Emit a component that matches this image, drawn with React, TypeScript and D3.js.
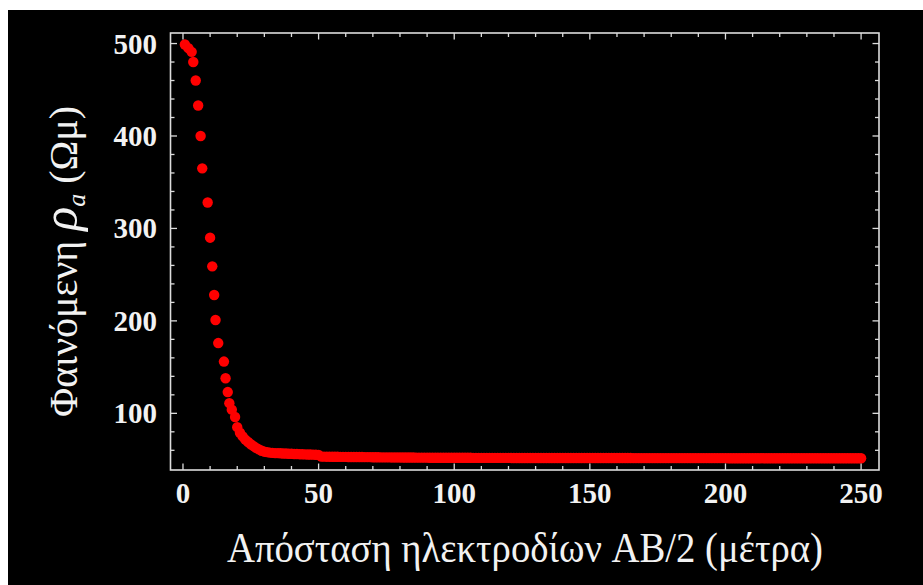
import React from "react";
import * as d3 from "d3";

// ---- data ----
// sparse steep part: x (AB/2, m) and apparent resistivity (Ohm m)
const steepX = [0.7, 2, 3.2, 3.8, 4.7, 5.6, 6.5, 7.1, 9.1, 10, 10.8, 11.5, 12, 13, 15.1, 15.7, 16.5, 17.1, 18, 19.2];
const steepY = [499, 495, 491, 480, 460, 433, 400, 365, 328, 290, 259, 228, 201, 176, 156, 138, 123, 111, 104, 96];

// dense knee part, x = 20..50 step 1
const kneeStart = 20;
const kneeY = [85, 79, 75, 71.5, 69, 66.5, 64.5, 62.5, 61, 59.5, 58.5, 58, 57.5, 57.2, 57, 56.9, 56.8, 56.6, 56.5, 56.3,
  56.2, 56, 56, 55.8, 55.7, 55.6, 55.5, 55.4, 55.3, 55.2, 55.1];

// dense tail part, x = 51..250 step 1
const tailStart = 51;
const tailY = [
  53.2, 53.2, 53.1, 53.1, 53.0, 53.0, 53.0, 52.9, 52.9, 52.9, 52.8, 52.8, 52.8, 52.7, 52.7, 52.7, 52.6, 52.6, 52.6, 52.5,
  52.5, 52.5, 52.4, 52.4, 52.4, 52.4, 52.3, 52.3, 52.3, 52.3, 52.2, 52.2, 52.2, 52.2, 52.2, 52.1, 52.1, 52.1, 52.1, 52.1,
  52.0, 52.0, 52.0, 52.0, 52.0, 52.0, 52.0, 51.9, 51.9, 51.9, 51.9, 51.9, 51.9, 51.9, 51.9, 51.9, 51.8, 51.8, 51.8, 51.8,
  51.8, 51.8, 51.8, 51.8, 51.8, 51.8, 51.8, 51.8, 51.8, 51.8, 51.7, 51.7, 51.7, 51.7, 51.7, 51.7, 51.7, 51.7, 51.7, 51.7,
  51.7, 51.7, 51.7, 51.7, 51.7, 51.7, 51.7, 51.7, 51.7, 51.7, 51.6, 51.6, 51.6, 51.6, 51.6, 51.6, 51.6, 51.6, 51.6, 51.6,
  51.6, 51.6, 51.6, 51.6, 51.6, 51.6, 51.6, 51.6, 51.6, 51.6, 51.6, 51.6, 51.6, 51.6, 51.6, 51.5, 51.5, 51.5, 51.5, 51.5,
  51.5, 51.5, 51.5, 51.5, 51.5, 51.5, 51.5, 51.5, 51.5, 51.5, 51.5, 51.5, 51.5, 51.5, 51.5, 51.5, 51.5, 51.5, 51.5, 51.5,
  51.5, 51.5, 51.5, 51.5, 51.5, 51.5, 51.5, 51.5, 51.5, 51.5, 51.4, 51.4, 51.4, 51.4, 51.4, 51.4, 51.4, 51.4, 51.4, 51.4,
  51.4, 51.4, 51.4, 51.4, 51.4, 51.4, 51.4, 51.4, 51.4, 51.4, 51.4, 51.4, 51.4, 51.4, 51.4, 51.4, 51.4, 51.4, 51.4, 51.4,
  51.4, 51.4, 51.4, 51.4, 51.4, 51.4, 51.4, 51.4, 51.4, 51.4, 51.4, 51.4, 51.4, 51.4, 51.4, 51.4, 51.4, 51.4, 51.4, 51.4,
];

const xMajor = [0, 50, 100, 150, 200, 250];
const xMinorStep = 10;
const yMajor = [100, 200, 300, 400, 500];
const yMinorStep = 20;

const xTitle = "Απόσταση ηλεκτροδίων AB/2 (μέτρα)";
const yTitleMain = "Φαινόμενη ";
const yTitleSym = "ρ";
const yTitleSub = "a";
const yTitleUnit = " (Ωμ)";

// ---- layout ----
const W = 923, H = 585;
const left = 170.5, right = 879, top = 33, bottom = 470;

export default function App() {
  const x = d3.scaleLinear().domain([-4.6, 256.6]).range([left, right]);
  const y = d3.scaleLinear().domain([38.7, 511.4]).range([bottom, top]);

  const points: [number, number][] = [];
  steepX.forEach((v, i) => points.push([v, steepY[i]]));
  kneeY.forEach((v, i) => points.push([kneeStart + i, v]));
  tailY.forEach((v, i) => points.push([tailStart + i, v]));

  const [x0, x1] = x.domain();
  const [y0, y1] = y.domain();
  const xMinor = d3.range(Math.ceil(x0 / xMinorStep) * xMinorStep, x1, xMinorStep).filter((v) => !xMajor.includes(v));
  const yMinor = d3.range(Math.ceil((y0 + 2) / yMinorStep) * yMinorStep, y1, yMinorStep).filter((v) => !yMajor.includes(v));

  const frameColor = "#dcdcdc";
  const textColor = "#f2f2f2";
  const majorLen = 6.5, minorLen = 4;
  const serif = "'Liberation Serif', 'DejaVu Serif', serif";

  return (
    <svg width={W} height={H} style={{ position: "absolute", left: 0, top: 0, display: "block" }}>
      <rect x={0} y={0} width={W} height={H} fill="#ffffff" />
      <rect x={8} y={10} width={W - 8} height={H - 10} fill="#000000" />

      {/* data */}
      <g fill="#ff0000">
        {points.map(([px, py], i) => (
          <circle key={i} cx={x(px)} cy={y(py)} r={5.2} />
        ))}
      </g>

      {/* frame */}
      <rect x={left} y={top} width={right - left} height={bottom - top} fill="none" stroke={frameColor} strokeWidth={1.6} />

      {/* ticks */}
      <g stroke={frameColor} strokeWidth={1.3}>
        {xMajor.map((v) => (
          <g key={"xM" + v}>
            <line x1={x(v)} x2={x(v)} y1={bottom} y2={bottom - majorLen} />
            <line x1={x(v)} x2={x(v)} y1={top} y2={top + majorLen} />
          </g>
        ))}
        {xMinor.map((v) => (
          <g key={"xm" + v}>
            <line x1={x(v)} x2={x(v)} y1={bottom} y2={bottom - minorLen} />
            <line x1={x(v)} x2={x(v)} y1={top} y2={top + minorLen} />
          </g>
        ))}
        {yMajor.map((v) => (
          <g key={"yM" + v}>
            <line x1={left} x2={left + majorLen} y1={y(v)} y2={y(v)} />
            <line x1={right} x2={right - majorLen} y1={y(v)} y2={y(v)} />
          </g>
        ))}
        {yMinor.map((v) => (
          <g key={"ym" + v}>
            <line x1={left} x2={left + minorLen} y1={y(v)} y2={y(v)} />
            <line x1={right} x2={right - minorLen} y1={y(v)} y2={y(v)} />
          </g>
        ))}
      </g>

      {/* tick labels */}
      <g fill={textColor} fontFamily={serif} fontWeight="bold" fontSize={29}>
        {xMajor.map((v) => (
          <text key={"xl" + v} x={x(v)} y={503} textAnchor="middle">
            {v}
          </text>
        ))}
        {yMajor.map((v) => (
          <text key={"yl" + v} x={157} y={y(v) + 10} textAnchor="end">
            {v}
          </text>
        ))}
      </g>

      {/* axis titles */}
      <text x={525} y={562} fill={textColor} fontFamily={serif} fontSize={42} textAnchor="middle"
        textLength={596} lengthAdjust="spacingAndGlyphs">
        {xTitle}
      </text>
      <text transform="translate(77,417) rotate(-90)" fill={textColor} fontFamily={serif} fontSize={40}>
        <tspan>{yTitleMain}</tspan>
        <tspan fontStyle="italic" fontSize={50}>{yTitleSym}</tspan>
        <tspan fontStyle="italic" fontSize={26} dy={8}>{yTitleSub}</tspan>
        <tspan dy={-8}>{yTitleUnit}</tspan>
      </text>
    </svg>
  );
}
